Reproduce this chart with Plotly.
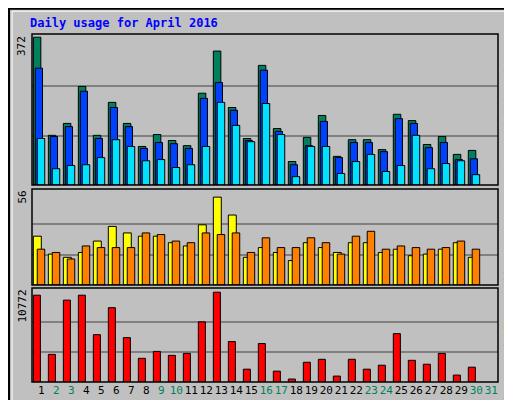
import plotly.graph_objects as go

days = list(range(1, 31))
hits = [372,125,155,248,125,208,155,97,127,112,99,231,337,195,117,301,142,59,120,175,72,114,114,89,178,162,102,122,77,87]
files = [294,122,147,236,117,195,147,92,107,104,92,218,258,188,112,289,135,51,99,160,69,107,107,84,167,155,94,107,64,66]
pages = [117,41,49,51,69,114,97,61,64,44,51,97,208,150,109,205,127,21,97,97,29,59,77,34,49,125,41,54,61,26]
visits = [30,19,17,20,27,36,32,30,30,26,24,37,54,43,17,23,20,15,26,23,20,26,26,20,22,18,19,22,26,17]
sites = [22,20,16,24,23,23,23,32,31,27,26,32,31,32,20,29,23,23,29,26,19,30,33,22,24,23,22,23,27,22]
kbytes = [10417,3314,9825,10417,5682,8918,5327,2841,3670,3196,3433,7221,10772,4853,1539,4617,1302,355,2367,2723,710,2723,1539,2012,5800,2604,2131,3433,829,1776]
tick_days = list(range(1, 32))
weekend = {2,3,9,10,16,17,23,24,30,31}

BG = "#C0C0C0"
FONT = "DejaVu Sans Mono"
fig = go.Figure()
def bar(y, color, off, w, ax):
    fig.add_trace(go.Bar(x=days, y=y, marker=dict(color=color, line=dict(color="black", width=1)),
                         offset=off, width=w, xaxis="x" + ax, yaxis="y" + ax, showlegend=False))
bar(hits, "#00805C", -0.53, 0.5, "")
bar(files, "#0040FF", -0.4, 0.48, "")
bar(pages, "#00E0FF", -0.27, 0.5, "")
bar(visits, "#FFFF00", -0.53, 0.53, "2")
bar(sites, "#FF8000", -0.27, 0.5, "2")
bar(kbytes, "#FF0000", -0.53, 0.47, "3")

xr = [0.38, 31.45]
dom = [24/512, 490/512]
common = dict(range=xr, domain=dom, showgrid=False, zeroline=False, fixedrange=True)
ticktext = [f"<span style='color:{'#00805C' if d in weekend else 'black'}'>{d}</span>" for d in tick_days]
fig.update_layout(
    width=512, height=400, margin=dict(l=0, r=0, t=0, b=0),
    paper_bgcolor=BG, plot_bgcolor=BG, barmode="overlay",
    font=dict(family=FONT, size=11, color="black"),
    xaxis=dict(**common, showticklabels=False, anchor="y"),
    xaxis2=dict(**common, showticklabels=False, anchor="y2"),
    xaxis3=dict(**common, anchor="y3", tickvals=tick_days, ticktext=ticktext, ticks="",
                tickangle=0, tickfont=dict(size=11, family=FONT)),
    yaxis=dict(domain=[0.5575, 0.935], range=[0, 380], tickvals=[124, 248], showticklabels=False,
               gridcolor="#808080", gridwidth=1.5, zeroline=False),
    yaxis2=dict(domain=[0.3075, 0.5475], range=[0, 59], tickvals=[18.67, 37.33], showticklabels=False,
                gridcolor="#808080", gridwidth=1.5, zeroline=False),
    yaxis3=dict(domain=[0.065, 0.3], range=[0, 11280], tickvals=[3591, 7181], showticklabels=False,
                gridcolor="#808080", gridwidth=1.5, zeroline=False),
)
shapes = [dict(type="rect", xref="paper", yref="paper", x0=0.002, y0=0.002, x1=0.998, y1=0.998,
               line=dict(color="black", width=2)),
          dict(type="rect", xref="paper", yref="paper", x0=0.008, y0=0.008, x1=0.992, y1=0.992,
               line=dict(color="white", width=1))]
for d in [[0.5575, 0.935], [0.3075, 0.5475], [0.065, 0.3]]:
    shapes.append(dict(type="rect", xref="paper", yref="paper", x0=dom[0], x1=dom[1], y0=d[0], y1=d[1],
                       line=dict(color="black", width=1.5)))
fig.update_layout(shapes=shapes)

ann = [dict(text="<b>Daily usage for April 2016</b>", x=20/512, y=1-15/400, xanchor="left", yanchor="middle",
            font=dict(color="#0000FF", size=12, family=FONT))]
for t, yy in [("372", 0.935), ("56", 0.5475), ("10772", 0.3)]:
    ann.append(dict(text=t, x=14/512, y=yy, textangle=-90, xanchor="center", yanchor="top", font=dict(size=11)))
def sp(t, c): return f"<span style='color:{c}'>{t}</span>"
ann.append(dict(text=sp("Pages", "#00E0FF") + " / " + sp("Files", "#0040FF") + " / " + sp("Hits", "#00805C"),
                x=500/512, y=0.935, textangle=-90, xanchor="center", yanchor="top", font=dict(size=11)))
ann.append(dict(text=sp("Sites", "#FF8000") + " / " + sp("Visits", "#FFFF00"),
                x=500/512, y=1-180/400, textangle=-90, xanchor="center", yanchor="top", font=dict(size=11)))
ann.append(dict(text=sp("kB F", "#FF0000") + " / " + sp("kB In", "#0080FF") + " / " + sp("kB Out", "#00C000"),
                x=500/512, y=1-288/400, textangle=-90, xanchor="center", yanchor="top", font=dict(size=11)))
for a in ann:
    a.setdefault("xref", "paper"); a.setdefault("yref", "paper"); a["showarrow"] = False
fig.update_layout(annotations=ann)
fig.write_html("out.html")
